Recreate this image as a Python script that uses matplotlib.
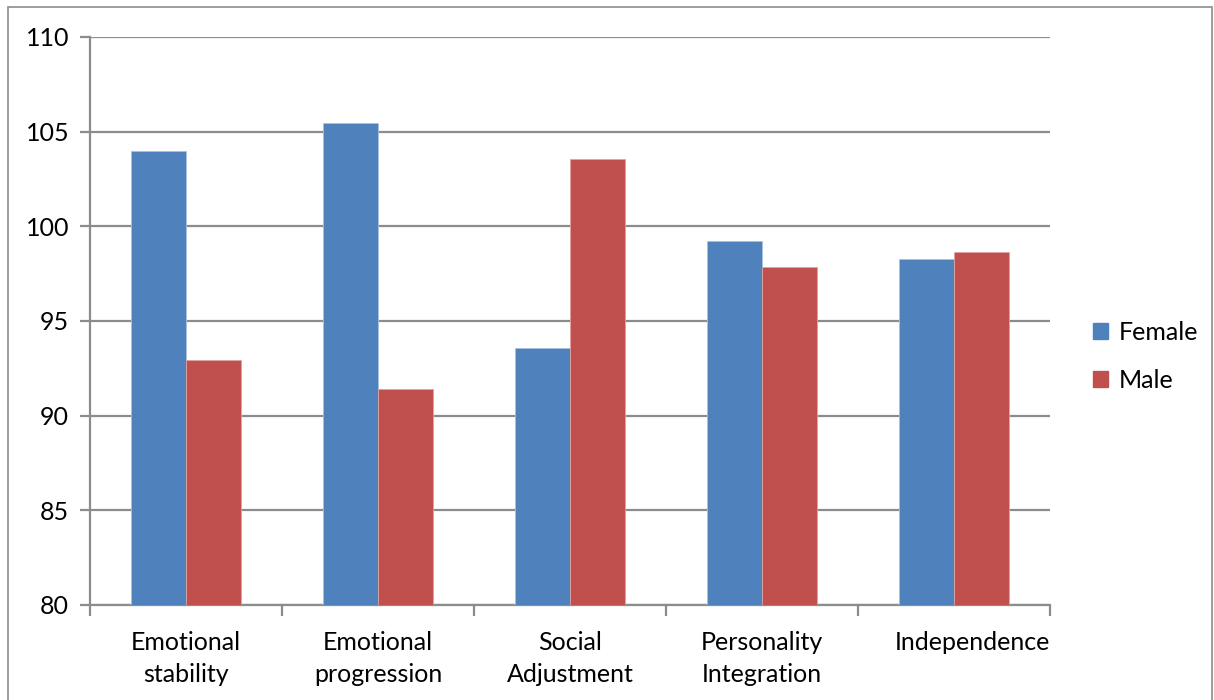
import matplotlib.pyplot as plt
import matplotlib.patches as mpatches
import matplotlib.transforms as mtransforms
import numpy as np

categories = ['Emotional\nstability', 'Emotional\nprogression', 'Social\nAdjustment',
              'Personality\nIntegration', 'Independence']
female = [104.0, 105.45, 93.55, 99.2, 98.3]
male = [92.95, 91.4, 103.55, 97.85, 98.65]
yticks = [80, 85, 90, 95, 100, 105, 110]

plt.rcParams['font.family'] = ['Lato', 'DejaVu Sans']
grid_col = '#8c8c8c'

fig = plt.figure(figsize=(12.14, 7.0), dpi=100)
W, H = 1214, 700
ax = fig.add_axes([90 / W, 1 - 605 / H, 960 / W, 568 / H])

x = np.arange(len(categories))
bw = 0.285
ax.bar(x - bw / 2, np.array(female) - 80, bw, bottom=80, color='#4F81BD', label='Female',
       edgecolor='#a9c1e0', linewidth=0.6, zorder=3)
ax.bar(x + bw / 2, np.array(male) - 80, bw, bottom=80, color='#C0504D', label='Male',
       edgecolor='#e0a3a1', linewidth=0.6, zorder=3)

ax.set_xlim(-0.5, len(categories) - 0.5)
ax.set_ylim(80, 110)
ax.set_yticks(yticks)
ax.set_yticklabels([str(v) for v in yticks], fontsize=18)
ax.yaxis.grid(True, color=grid_col, linewidth=1.6, zorder=0)

ax.set_xticks(x)
ax.set_xticklabels(categories, fontsize=18, linespacing=1.45)
ax.set_xticks(np.arange(len(categories) + 1) - 0.5, minor=True)
ax.tick_params(axis='x', which='major', length=0, pad=19)
ax.tick_params(axis='x', which='minor', length=8, width=1.6, color=grid_col, direction='out')
ax.tick_params(axis='y', length=7, width=1.6, color=grid_col, direction='out', pad=8)

# the last label sits a little right of its slot in the original
last = ax.get_xticklabels()[-1]
last.set_transform(last.get_transform() + mtransforms.ScaledTranslation(0.18, 0, fig.dpi_scale_trans))

for s in ['top', 'right']:
    ax.spines[s].set_visible(False)
for s in ['left', 'bottom']:
    ax.spines[s].set_color(grid_col)
    ax.spines[s].set_linewidth(1.6)

handles = [mpatches.Patch(color='#4F81BD', label='Female'),
           mpatches.Patch(color='#C0504D', label='Male')]
fig.legend(handles=handles, loc='center left', bbox_to_anchor=(1070 / W, 1 - 356 / H),
           frameon=False, fontsize=18, handlelength=0.6, handleheight=0.6,
           handletextpad=0.45, labelspacing=1.0)

# outer chart border
fig.add_artist(mpatches.Rectangle((8 / W, -0.01), (1212 - 8) / W, 1 - 7 / H + 0.01,
                                  transform=fig.transFigure, fill=False,
                                  edgecolor='#8c8c8c', linewidth=1.2))

plt.savefig('out.png', dpi=100)
